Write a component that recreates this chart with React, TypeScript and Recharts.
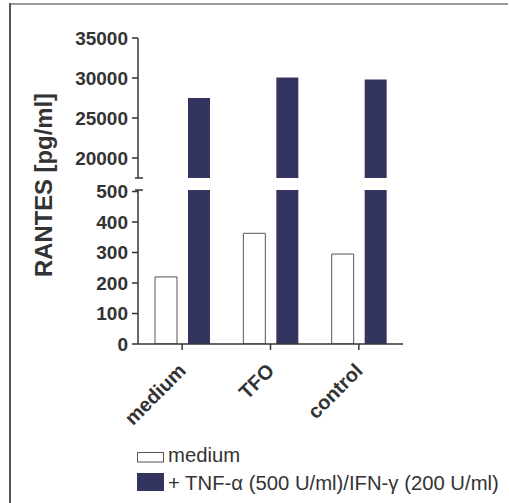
import React from 'react';
import { BarChart, Bar, XAxis, YAxis } from 'recharts';

const categories = ['medium', 'TFO', 'control'];
const mediumValues = [220, 363, 295];
const stimulatedValues = [27500, 30050, 29800];
const seriesNames = ['medium', '+ TNF-\u03B1 (500 U/ml)/IFN-\u03B3 (200 U/ml)'];
const seriesColors = ['#ffffff', '#343460'];
const upperTicks = [17500, 20000, 25000, 30000, 35000];
const lowerTicks = [0, 100, 200, 300, 400, 500, 505];
const upperDomain: [number, number] = [17500, 35000];
const lowerDomain: [number, number] = [0, 505];
const yLabel = 'RANTES [pg/ml]';

const lowerData = categories.map((c, i) => ({ name: c, medium: mediumValues[i], stim: stimulatedValues[i] }));
const upperData = categories.map((c, i) => ({ name: c, medium: null, stim: stimulatedValues[i] }));

const FONT = '"Liberation Sans", Arial, Helvetica, sans-serif';
const TEXT = '#333';
const TICK_SIZE = 6;
const TICK_MARGIN = 4;
const W = 509;
const H = 503;

function makeYTick(capValue: number) {
  return (props: any) => {
    const { x, y, payload } = props;
    const axisX = x + TICK_SIZE + TICK_MARGIN;
    if (payload.value === capValue) {
      return <line x1={axisX - 3} x2={axisX + 5} y1={y} y2={y} stroke={TEXT} strokeWidth={1.5} />;
    }
    return (
      <g>
        <line x1={axisX - TICK_SIZE} x2={axisX} y1={y} y2={y} stroke={TEXT} strokeWidth={1.5} />
        <text x={x} y={y} dy="0.36em" textAnchor="end" fontFamily={FONT} fontWeight="bold" fontSize={19} fill={TEXT}>
          {payload.value}
        </text>
      </g>
    );
  };
}

const XTick = (props: any) => {
  const { x, y, payload } = props;
  const ax = x + 5;
  const ay = y + 20;
  return (
    <text x={ax} y={ay} textAnchor="end" transform={`rotate(-45 ${ax} ${ay})`} fontFamily={FONT} fontWeight="bold" fontSize={20} fill={TEXT}>
      {payload.value}
    </text>
  );
};

export default function App() {
  return (
    <div style={{ position: 'absolute', left: 0, top: 0, width: W, height: H, background: '#fff', overflow: 'hidden' }}>
      <svg width={W} height={H} style={{ position: 'absolute', left: 0, top: 0 }}>
        <line x1={10} x2={508} y1={4} y2={4} stroke="#7a7a7a" strokeWidth={1.6} />
        <line x1={10} x2={10} y1={3} y2={H} stroke="#555" strokeWidth={2} />
        <text
          transform="translate(52 185) rotate(-90)"
          textAnchor="middle"
          fontFamily={FONT}
          fontWeight="bold"
          fontSize={23}
          fill={TEXT}
          textLength={184}
          lengthAdjust="spacingAndGlyphs"
        >
          {yLabel}
        </text>
        <g fontFamily={FONT} fontSize={20.3} fill={TEXT}>
          <rect x={137.5} y={452.5} width={26} height={9.5} fill={seriesColors[0]} stroke="#555" strokeWidth={1} />
          <text x={168} y={462}>{seriesNames[0]}</text>
          <rect x={137} y={473} width={27} height={18} fill={seriesColors[1]} />
          <text x={168} y={490}>{seriesNames[1]}</text>
        </g>
      </svg>
      <div style={{ position: 'absolute', left: 0, top: 0 }}>
        <BarChart width={W} height={200} data={upperData} margin={{ top: 38, right: 106, left: 0, bottom: 22 }} barSize={22} barGap={11}>
          <XAxis dataKey="name" hide />
          <YAxis
            width={138}
            domain={upperDomain}
            ticks={upperTicks}
            allowDataOverflow
            interval={0}
            tickSize={TICK_SIZE}
            tickMargin={TICK_MARGIN}
            tickLine={false}
            axisLine={{ stroke: TEXT, strokeWidth: 1.5 }}
            tick={makeYTick(17500)}
          />
          <Bar dataKey="medium" fill={seriesColors[0]} isAnimationActive={false} />
          <Bar dataKey="stim" fill={seriesColors[1]} isAnimationActive={false} />
        </BarChart>
      </div>
      <div style={{ position: 'absolute', left: 0, top: 0 }}>
        <BarChart width={W} height={H} data={lowerData} margin={{ top: 190, right: 106, left: 0, bottom: 99 }} barSize={22} barGap={11}>
          <XAxis
            dataKey="name"
            height={60}
            interval={0}
            tickSize={6}
            tickMargin={2}
            tickLine={{ stroke: TEXT, strokeWidth: 1.5 }}
            axisLine={{ stroke: TEXT, strokeWidth: 1.5 }}
            tick={<XTick />}
          />
          <YAxis
            width={138}
            domain={lowerDomain}
            ticks={lowerTicks}
            allowDataOverflow
            interval={0}
            tickSize={TICK_SIZE}
            tickMargin={TICK_MARGIN}
            tickLine={false}
            axisLine={{ stroke: TEXT, strokeWidth: 1.5 }}
            tick={makeYTick(505)}
          />
          <Bar dataKey="medium" fill={seriesColors[0]} stroke="#555" strokeWidth={1} isAnimationActive={false} />
          <Bar dataKey="stim" fill={seriesColors[1]} isAnimationActive={false} />
        </BarChart>
      </div>
    </div>
  );
}
